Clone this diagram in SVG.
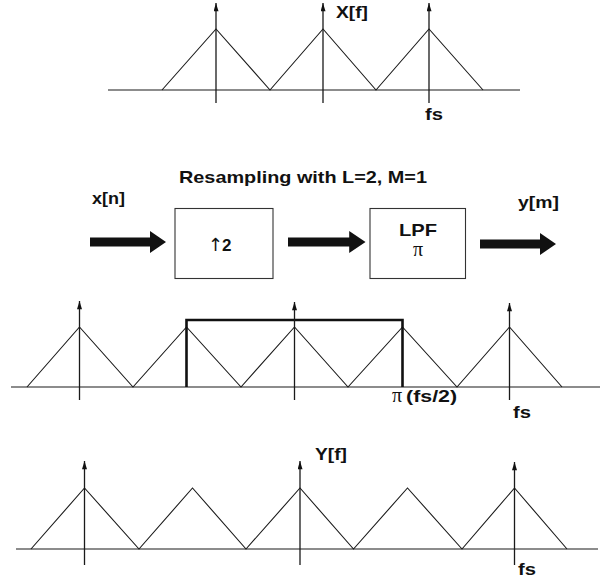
<svg xmlns="http://www.w3.org/2000/svg" width="605" height="586" viewBox="0 0 605 586">
<style>
  .ax { stroke:#1a1a1a; stroke-width:1.2; fill:none; }
  .tri { stroke:#1a1a1a; stroke-width:1.1; fill:none; stroke-linejoin:miter; }
  .sp { stroke:#1a1a1a; stroke-width:1.3; fill:none; marker-end:url(#tip); }
  .box { stroke:#333; stroke-width:1.1; fill:#fff; }
  .lpf { stroke:#111; stroke-width:2.6; fill:none; }
  .blk { fill:#111; stroke:none; }
  .lb { font-family:"Liberation Sans", Arial, sans-serif; font-weight:bold; font-size:17px; fill:#111; }
  .pi { font-family:"Liberation Serif", "Times New Roman", serif; font-size:20px; fill:#111; }
  .up { font-family:"DejaVu Sans", sans-serif; font-weight:normal; font-size:18px; fill:#111; }
</style>
<defs>
  <marker id="tip" viewBox="0 0 10 6" refX="10" refY="3" markerUnits="userSpaceOnUse" markerWidth="11" markerHeight="5" orient="auto">
    <path d="M0,0 L10,3 L0,6 Z" fill="#111"/>
  </marker>
  <path id="bigarrow" d="M0,-4.5 L60,-4.5 L60,-11 L76,0 L60,11 L60,4.5 L0,4.5 Z"/>
</defs>

<g id="spectrum-x">
  <line class="ax" x1="108" y1="90" x2="520" y2="90"/>
  <polyline class="tri" points="162,90 216,29 270,90 323,29 376,90 429,29 483,90"/>
  <line class="sp" x1="216" y1="103" x2="216" y2="3"/>
  <line class="sp" x1="323" y1="103" x2="323" y2="3"/>
  <line class="sp" x1="429" y1="103" x2="429" y2="3"/>
  <text class="lb" x="336" y="18" textLength="32" lengthAdjust="spacingAndGlyphs">X[f]</text>
  <text class="lb" x="425" y="120" font-size="19" textLength="18" lengthAdjust="spacingAndGlyphs">fs</text>
</g>

<g id="title">
  <text class="lb" x="179" y="183" textLength="248" lengthAdjust="spacingAndGlyphs">Resampling with L=2, M=1</text>
</g>

<g id="input-label">
  <text class="lb" x="92" y="204" textLength="33" lengthAdjust="spacingAndGlyphs">x[n]</text>
</g>

<g id="upsampler">
  <rect class="box" x="175" y="208.5" width="98" height="70"/>
  <text class="lb" x="208" y="251" font-size="18"><tspan class="up">↑</tspan><tspan dx="-1">2</tspan></text>
</g>

<g id="lpf">
  <rect class="box" x="370" y="208.5" width="95.5" height="70"/>
  <text class="lb" x="399" y="236" textLength="38" lengthAdjust="spacingAndGlyphs">LPF</text>
  <text class="pi" x="418" y="256" text-anchor="middle">π</text>
</g>

<g id="output-label">
  <text class="lb" x="518" y="208" textLength="41" lengthAdjust="spacingAndGlyphs">y[m]</text>
</g>

<g id="connectors">
  <use href="#bigarrow" class="blk" transform="translate(90,242)"/>
  <use href="#bigarrow" class="blk" transform="translate(288,242) scale(1.02,1)"/>
  <use href="#bigarrow" class="blk" transform="translate(480,244)"/>
</g>

<g id="spectrum-upsampled">
  <line class="ax" x1="11" y1="387" x2="600" y2="387"/>
  <polyline class="tri" points="27,387 79.5,327 133,387 186.5,327 241,387 294.5,327 348,387 402.5,327 457,387 509.5,327 562,387"/>
  <polyline class="lpf" points="186.5,387 186.5,320 402.5,320 402.5,387"/>
  <line class="sp" x1="79.5" y1="400" x2="79.5" y2="301"/>
  <line class="sp" x1="294.5" y1="400" x2="294.5" y2="302"/>
  <line class="sp" x1="509.5" y1="400" x2="509.5" y2="303"/>
  <text x="392" y="402"><tspan class="pi">π</tspan><tspan class="lb" dx="4" textLength="51" lengthAdjust="spacingAndGlyphs">(fs/2)</tspan></text>
  <text class="lb" x="513" y="418" font-size="19" textLength="18" lengthAdjust="spacingAndGlyphs">fs</text>
</g>

<g id="spectrum-y">
  <line class="ax" x1="16" y1="549" x2="598" y2="549"/>
  <polyline class="tri" points="31,549 84.5,488 139,549 192.5,488 246,549 300,488 353.5,549 407.5,488 462,549 514.5,488 567,549"/>
  <line class="sp" x1="84.5" y1="565" x2="84.5" y2="461"/>
  <line class="sp" x1="300" y1="565" x2="300" y2="461"/>
  <line class="sp" x1="514.5" y1="565" x2="514.5" y2="462"/>
  <text class="lb" x="315" y="460" textLength="32" lengthAdjust="spacingAndGlyphs">Y[f]</text>
  <text class="lb" x="518" y="575" font-size="19" textLength="18" lengthAdjust="spacingAndGlyphs">fs</text>
</g>
</svg>
